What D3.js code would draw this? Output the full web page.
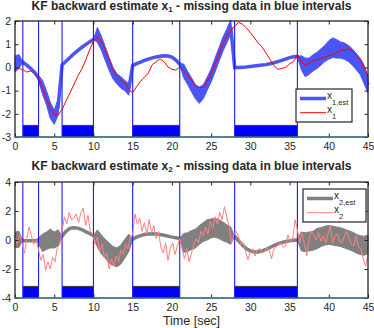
<!DOCTYPE html>
<html>
<head>
<meta charset="utf-8">
<script src="https://cdn.jsdelivr.net/npm/d3@7"></script>
<style>
  body { margin: 0; background: #fff; }
  text { font-family: "Liberation Sans", Arial, sans-serif; fill: #262626; }
</style>
</head>
<body>
<script>
'use strict';

// missing-data intervals (sec)
const missStart = [1, 6, 15, 28];
const missEnd = [3, 10, 21, 36];

// tick values
const xTicks = [0, 5, 10, 15, 20, 25, 30, 35, 40, 45];
const y1Ticks = [-3, -2, -1, 0, 1, 2];
const y2Ticks = [-4, -2, 0, 2, 4];

// x1 true state, sampled every 0.5 s
const x1True = [0.0, -0.05, -0.1, -0.2, -0.15, -0.25, -0.45, -0.9, -1.35, -1.75,
  -2.02, -2.05, -1.82, -1.45, -1.1, -0.75, -0.38, -0.08, 0.3, 0.75,
  1.12, 1.3, 1.12, 0.75, 0.33, -0.1, -0.35, -0.55, -0.65, -0.95,
  -1.1, -0.83, -0.6, -0.42, -0.25, 0.12, 0.25, 0.37, 0.25, 0.02,
  -0.08, -0.12, 0.02, -0.15, -0.35, -0.55, -0.78, -0.88, -0.86, -0.6,
  -0.3, 0.15, 0.55, 1.0, 1.35, 1.6, 1.78, 1.94, 1.86, 1.7,
  1.5, 1.28, 1.05, 0.88, 0.62, 0.35, 0.08, -0.08, -0.05, 0.0,
  0.15, 0.25, 0.55, 0.25, 0.1, 0.2, 0.28, 0.32, 0.38, 0.45,
  0.5, 0.55, 0.65, 0.72, 0.75, 0.8, 0.7, 0.52, 0.3, 0.0, -0.4];

// x1 backward estimate (centre) and noise half-width, every 0.5 s
const x1Est = [0.15, 0.25, 0.23, 0.1, -0.05, -0.22, -0.45, -0.85, -1.3, -1.85, -2.15, -1.7,
  0.1, 0.27, 0.43, 0.58, 0.72, 0.86, 0.98, 1.1, 1.2,
  1.4, 1.05, 0.6, 0.15, -0.25, -0.5, -0.65, -0.78, -0.95,
  0.08, 0.16, 0.23, 0.3, 0.36, 0.41, 0.45, 0.48, 0.5, 0.49, 0.44, 0.32, 0.15,
  -0.15, -0.45, -0.75, -1.05, -1.2, -1.05, -0.7, -0.35, 0.1, 0.55, 1.0, 1.35, 1.75,
  0.0, 0.0, 0.01, 0.02, 0.04, 0.06, 0.08, 0.1, 0.12, 0.16, 0.2, 0.25, 0.3, 0.36, 0.42, 0.46, 0.48,
  0.2, 0.0, 0.05, 0.2, 0.3, 0.45, 0.6, 0.75, 0.85, 0.8, 0.75, 0.7, 0.6, 0.45, 0.25, 0.05, -0.3, -0.75];
const x1Spread = [0.35, 0.3, 0, 0, 0, 0, 0.1, 0.3, 0.3, 0.35, 0.3, 0.35,
  0, 0, 0, 0, 0, 0, 0, 0, 0,
  0.32, 0.3, 0.3, 0.28, 0.25, 0.22, 0.25, 0.22, 0.25,
  0, 0, 0, 0, 0, 0, 0, 0, 0, 0, 0, 0, 0,
  0.3, 0.28, 0.3, 0.3, 0.35, 0.3, 0.28, 0.28, 0.3, 0.3, 0.3, 0.3, 0.3,
  0, 0, 0, 0, 0, 0, 0, 0, 0, 0, 0, 0, 0, 0, 0, 0, 0,
  0.3, 0.4, 0.35, 0.35, 0.35, 0.35, 0.35, 0.4, 0.42, 0.4, 0.35, 0.35, 0.35, 0.35, 0.35, 0.35, 0.4, 0.35];

// x2 true state, sampled every 0.3 s
const x2True = [0.2, -0.3, 0.4, -0.2, -0.9, 0.1, 0.9, 0.3, -0.3, 0.0,
  -0.7, -1.4, -1.0, -2.1, -1.5, -2.0, -1.2, -1.5, -0.5, -0.3,
  0.6, 1.6, 1.1, 1.9, 1.4, 1.5, 1.8, 1.2, 1.9, 2.2,
  1.0, 1.7, 0.6, 0.4, -0.3, 0.2, -0.8, -0.3, -1.2, -0.9,
  -2.0, -1.3, -1.8, -1.1, -1.5, -0.7, -1.0, -0.3, -0.6, 0.2,
  0.4, 1.8, 1.1, 1.5, 0.6, 1.2, 0.4, 1.4, 0.5, 1.0,
  0.1, 0.6, -0.5, -0.9, -0.2, -1.4, -0.6, -0.2, -1.0, -0.4,
  0.1, -0.6, -1.3, -0.6, -1.5, -0.9, -0.3, 0.1, -0.2, 0.6,
  0.3, 0.9, 0.4, 1.3, 0.8, 1.6, 1.1, 1.9, 1.4, 2.3,
  1.6, 0.9, -0.2, 0.4, 0.6, 0.2, -0.3, -0.2, -0.8, -1.35,
  -0.8, -0.6, -1.1, -0.7, -0.6, -0.9, -0.8, -0.5, -0.7, -1.3,
  -0.6, -0.5, -0.3, -0.2, -0.5, -0.4, 0.35, -0.1, 0.1, 1.4,
  0.7, -0.2, 0.5, -0.3, -1.1, 0.2, 0.6, 0.3, 0.0, 0.5,
  -0.1, 0.3, -0.2, 0.4, 1.0, -0.2, 0.3, 0.4, -0.1, -0.2,
  0.3, 0.6, 0.1, -0.3, -0.4, 0.3, -0.5, -0.6, -1.3, -1.8, -1.0];

// x2 backward estimate (centre) and noise half-width, every 0.5 s
const x2Est = [0.0, 0.05, -0.05, -0.05, -0.05, -0.05, -0.05, -0.2, -0.05, 0.1, 0.0, 0.15,
  0.25, 0.6, 0.8, 0.85, 0.82, 0.72, 0.58, 0.45, 0.3,
  0.1, -0.3, -0.6, -0.9, -1.1, -1.2, -1.0, -0.6, -0.2,
  0.05, 0.2, 0.3, 0.38, 0.42, 0.43, 0.42, 0.38, 0.33, 0.27, 0.2, 0.15, 0.1,
  -0.2, -0.15, 0.0, 0.1, 0.35, 0.55, 0.7, 0.8, 0.85, 0.75, 0.6, 0.45, 0.3,
  0.25, -0.05, -0.35, -0.6, -0.75, -0.82, -0.83, -0.75, -0.65, -0.52, -0.38, -0.27, -0.18, -0.1, -0.06, -0.02, 0.0,
  -0.1, -0.15, -0.1, -0.05, 0.1, 0.2, 0.3, 0.35, 0.3, 0.25, 0.2, 0.1, 0.0, -0.1, -0.25, -0.35, -0.4, -0.3];
const x2Spread = [0.55, 0.55, 0, 0, 0, 0, 0.2, 0.6, 0.6, 0.65, 0.55, 0.55,
  0, 0, 0, 0, 0, 0, 0, 0, 0,
  0.6, 0.65, 0.65, 0.7, 0.65, 0.65, 0.65, 0.65, 0.6,
  0, 0, 0, 0, 0, 0, 0, 0, 0, 0, 0, 0, 0,
  0.65, 0.65, 0.65, 0.65, 0.65, 0.65, 0.7, 0.65, 0.65, 0.65, 0.65, 0.6, 0.6,
  0, 0, 0, 0, 0, 0, 0, 0, 0, 0, 0, 0, 0, 0, 0, 0, 0,
  0.65, 0.65, 0.65, 0.65, 0.7, 0.65, 0.65, 0.65, 0.65, 0.65, 0.65, 0.65, 0.65, 0.65, 0.65, 0.65, 0.65, 0.65];

(function() {

  const svg = d3.select('body').append('svg')
    .attr('width', 374)
    .attr('height', 328);

  const xScale = d3.scaleLinear().domain([0, 45]).range([15, 368]);

  drawPanel({
    top: 21, bottom: 137, yDomain: [-3, 2], yTicks: y1Ticks, barTop: -2.5,
    trueVals: x1True, trueDt: 0.5, trueColor: '#ff0000',
    est: x1Est, spread: x1Spread, estColor: '#4b55f7',
    sub: '1', titleY: 9.5,
    legend: {x: 296, y: 89, w: 56, h: 33}
  });

  drawPanel({
    top: 182, bottom: 298, yDomain: [-4, 4], yTicks: y2Ticks, barTop: -3.2,
    trueVals: x2True, trueDt: 0.3, trueColor: '#ff8080',
    est: x2Est, spread: x2Spread, estColor: '#808080',
    sub: '2', titleY: 169.5,
    legend: {x: 303, y: 189, w: 63, h: 33}
  });

  // x label
  svg.append('text')
    .attr('x', 191.5)
    .attr('y', 324.5)
    .attr('text-anchor', 'middle')
    .style('font-size', '12.5px')
    .text('Time [sec]');

  function drawPanel(p) {
    const yScale = d3.scaleLinear().domain(p.yDomain).range([p.bottom, p.top]);
    const g = svg.append('g');

    // blue bars marking missing intervals
    missStart.forEach((s, i) => {
      g.append('rect')
        .attr('x', xScale(s))
        .attr('y', yScale(p.barTop))
        .attr('width', xScale(missEnd[i]) - xScale(s))
        .attr('height', yScale(p.yDomain[0]) - yScale(p.barTop))
        .attr('fill', '#0000ff');
      g.append('line')
        .attr('x1', xScale(s)).attr('x2', xScale(missEnd[i]))
        .attr('y1', yScale(p.barTop)).attr('y2', yScale(p.barTop))
        .attr('stroke', '#3a3a3a').attr('stroke-width', 1);
    });

    // estimate: noisy band where data is observed, smooth thick line where missing
    const estRows = p.est.map((v, i) => ({t: i * 0.5, v: v, lo: v - p.spread[i], hi: v + p.spread[i]}));
    const band = d3.area()
      .x((d) => xScale(d.t))
      .y0((d) => yScale(d.lo))
      .y1((d) => yScale(d.hi));
    g.append('path')
      .datum(estRows)
      .attr('d', band)
      .attr('fill', p.estColor)
      .attr('stroke', p.estColor)
      .attr('stroke-width', 1);
    const mid = d3.line()
      .x((d) => xScale(d.t))
      .y((d) => yScale(d.v));
    g.append('path')
      .datum(estRows)
      .attr('d', mid)
      .attr('fill', 'none')
      .attr('stroke', p.estColor)
      .attr('stroke-width', 3.5);

    // interval boundaries
    missStart.concat(missEnd).forEach((t) => {
      g.append('line')
        .attr('x1', xScale(t)).attr('x2', xScale(t))
        .attr('y1', p.top).attr('y2', p.bottom)
        .attr('stroke', '#1a1aff').attr('stroke-width', 1.1);
    });

    // true state
    const line = d3.line()
      .x((d, i) => xScale(i * p.trueDt))
      .y((d) => yScale(d));
    g.append('path')
      .datum(p.trueVals)
      .attr('d', line)
      .attr('fill', 'none')
      .attr('stroke', p.trueColor)
      .attr('stroke-width', 1);

    // axes with inward ticks on all sides
    const tick = 3.5;
    const fmt = (d) => String(d);
    g.append('g').attr('transform', `translate(0,${p.bottom})`)
      .call(d3.axisBottom(xScale).tickValues(xTicks).tickSize(-tick).tickPadding(5.5).tickFormat(fmt));
    g.append('g').attr('transform', `translate(0,${p.top})`)
      .call(d3.axisTop(xScale).tickValues(xTicks).tickSize(-tick).tickFormat(''));
    g.append('g').attr('transform', 'translate(15,0)')
      .call(d3.axisLeft(yScale).tickValues(p.yTicks).tickSize(-tick).tickPadding(4).tickFormat(fmt));
    g.append('g').attr('transform', 'translate(368,0)')
      .call(d3.axisRight(yScale).tickValues(p.yTicks).tickSize(-tick).tickFormat(''));
    g.selectAll('.domain').remove();
    g.selectAll('.tick line').attr('stroke', '#262626');
    g.selectAll('.tick text')
      .style('font-size', '10.5px')
      .style('font-family', '"Liberation Sans", Arial, sans-serif')
      .attr('fill', '#262626');

    // frame
    g.append('rect')
      .attr('x', 15).attr('y', p.top)
      .attr('width', 353).attr('height', p.bottom - p.top)
      .attr('fill', 'none')
      .attr('stroke', '#262626')
      .attr('stroke-width', 1.3);
    g.append('line')
      .attr('x1', 15).attr('x2', 368)
      .attr('y1', p.bottom).attr('y2', p.bottom)
      .attr('stroke', '#3f8fbf').attr('stroke-width', 1.2);

    // title
    const title = g.append('text')
      .attr('x', 191.5)
      .attr('y', p.titleY)
      .attr('text-anchor', 'middle')
      .style('font-size', '12px')
      .style('font-weight', 'bold')
      .attr('fill', '#000');
    title.append('tspan').text('KF backward estimate x');
    title.append('tspan').attr('dy', 2.5).style('font-size', '8px').text(p.sub);
    title.append('tspan').attr('dy', -2.5).text(' - missing data in blue intervals');

    // legend
    const L = p.legend;
    g.append('rect')
      .attr('x', L.x).attr('y', L.y)
      .attr('width', L.w).attr('height', L.h)
      .attr('fill', '#fff')
      .attr('stroke', '#262626')
      .attr('stroke-width', 1.2);
    const entries = [
      {color: p.estColor, width: 3.5, sub: p.sub + ',est'},
      {color: p.trueColor, width: 1, sub: p.sub}
    ];
    entries.forEach((e, i) => {
      const ly = L.y + 9.5 + i * 14.2;
      g.append('line')
        .attr('x1', L.x + 4).attr('x2', L.x + 30)
        .attr('y1', ly).attr('y2', ly)
        .attr('stroke', e.color)
        .attr('stroke-width', e.width);
      const t = g.append('text')
        .attr('x', L.x + 31)
        .attr('y', ly + 0.5)
        .style('font-size', '10px');
      t.append('tspan').text('x');
      t.append('tspan').attr('dy', 5.5).style('font-size', '7.5px').text(e.sub);
    });
  }

})();
</script>
</body>
</html>
